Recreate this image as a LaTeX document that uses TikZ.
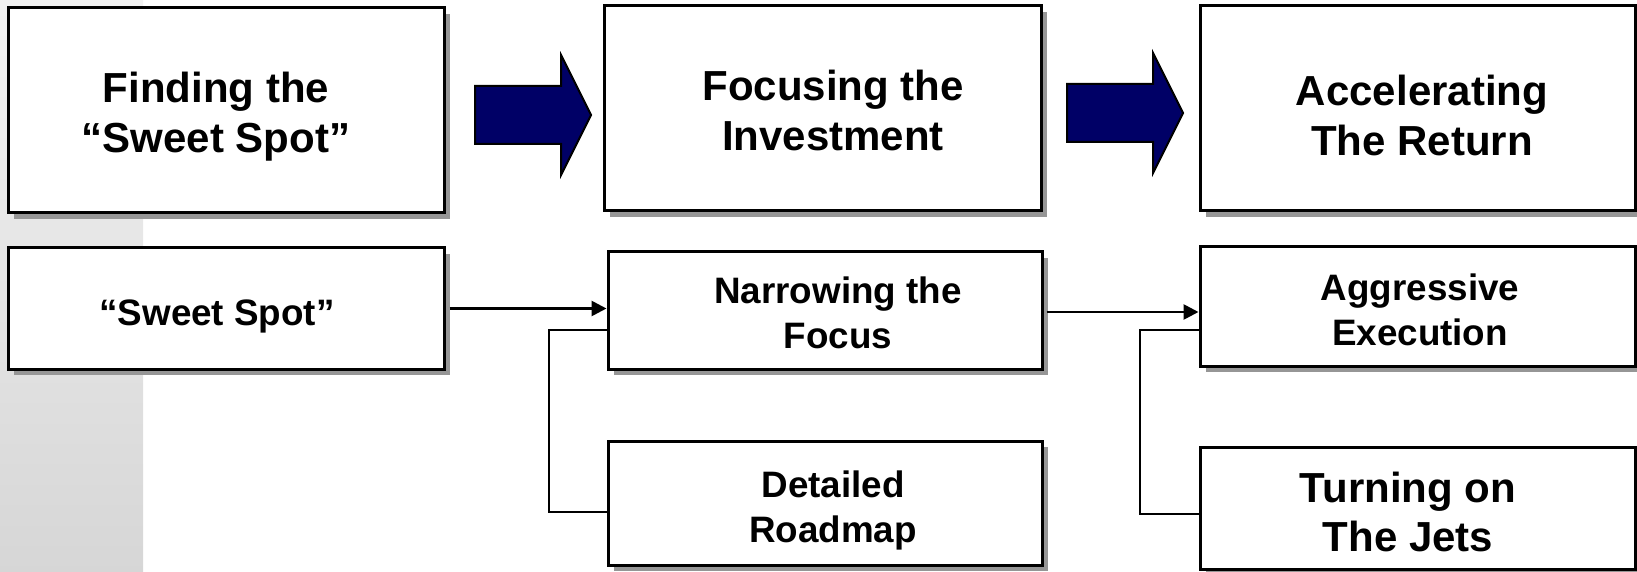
\documentclass[tikz,border=0pt]{standalone}
\usepackage{fontspec}
\setmainfont{Liberation Sans}
\usetikzlibrary{arrows.meta,fit,shadows}
\definecolor{navyfill}{RGB}{0,0,102}
\definecolor{shadowgray}{RGB}{150,150,150}

\begin{document}
\begin{tikzpicture}[x=0.5pt,y=-0.5pt,
  box/.style={draw=black, line width=1.5pt, fill=white, inner sep=0pt,
    drop shadow={shadow xshift=3.2pt, shadow yshift=-3.2pt, fill=shadowgray, opacity=1}},
  bigtext/.style={font=\fontsize{21}{25}\selectfont\bfseries, align=center, inner sep=0pt},
  smalltext/.style={font=\fontsize{18.4}{22.5}\selectfont\bfseries, align=center, inner sep=0pt},
  blockarrow/.style={fill=navyfill, draw=black, line width=1pt, line join=miter},
  conn/.style={line width=1.35pt, -{Triangle[length=7.5pt,width=7.5pt]}},
  link/.style={line width=1.35pt}]

% page frame
\useasboundingbox (0,0) rectangle (1637,572);

% shaded strip along the left edge
\shade[top color=gray!10, bottom color=gray!32] (0,0) rectangle (143,572);

% stage boxes (top row)
\node[box, fit={(8,8)(444,213)}] (find) {};
\node[box, fit={(604,6)(1041,211)}] (focus) {};
\node[box, fit={(1200,6)(1635,211)}] (accel) {};

\node[bigtext] (findT) at (216,117) {Finding the\\“Sweet Spot”};
\node[bigtext] (focusT) at (833,110) {Focusing the\\Investment};
\node[bigtext] (accelT) at (1422,115) {Accelerating\\The Return};

% block arrows between stages
\draw[blockarrow] (475,86) -- (561,86) -- (561,55) -- (591,115) -- (561,175)
  -- (561,144) -- (475,144) -- cycle;
\draw[blockarrow] (1067,84) -- (1153,84) -- (1153,53) -- (1183,113) -- (1153,173)
  -- (1153,142) -- (1067,142) -- cycle;

% detail boxes (lower rows)
\node[box, fit={(8,248)(444,369)}] (sweet) {};
\node[box, fit={(608,252)(1042,369)}] (narrow) {};
\node[box, fit={(608,441)(1042,565)}] (detail) {};
\node[box, fit={(1200,247)(1635,366)}] (aggr) {};
\node[box, fit={(1200,447)(1635,569)}] (jets) {};

\node[smalltext] (sweetT) at (217,316) {“Sweet Spot”};
\node[smalltext] (narrowT) at (838,313) {Narrowing the\\Focus};
\node[smalltext] (detailT) at (833,510) {Detailed\\Roadmap};
\node[smalltext] (aggrT) at (1420,310) {Aggressive\\Execution};
\node[bigtext, font=\fontsize{21}{24.5}\selectfont\bfseries] (jetsT) at (1408,512) {Turning on\\The Jets};

% flow arrows
\draw[conn] ([xshift=2pt]sweet.east) -- (sweet.east -| narrow.west);
\draw[conn] ([xshift=1.5pt,yshift=-0.75pt]narrow.east) -- ([yshift=-0.75pt]narrow.east -| aggr.west);

% brackets joining the paired boxes
\coordinate (lb1) at (549,330);
\coordinate (lb2) at (549,512);
\draw[link] (narrow.west |- lb1) -- (lb1) -- (lb2) -- (detail.west |- lb2);
\coordinate (rb1) at (1140,330);
\coordinate (rb2) at (1140,514);
\draw[link] (aggr.west |- rb1) -- (rb1) -- (rb2) -- (jets.west |- rb2);

\end{tikzpicture}
\end{document}
